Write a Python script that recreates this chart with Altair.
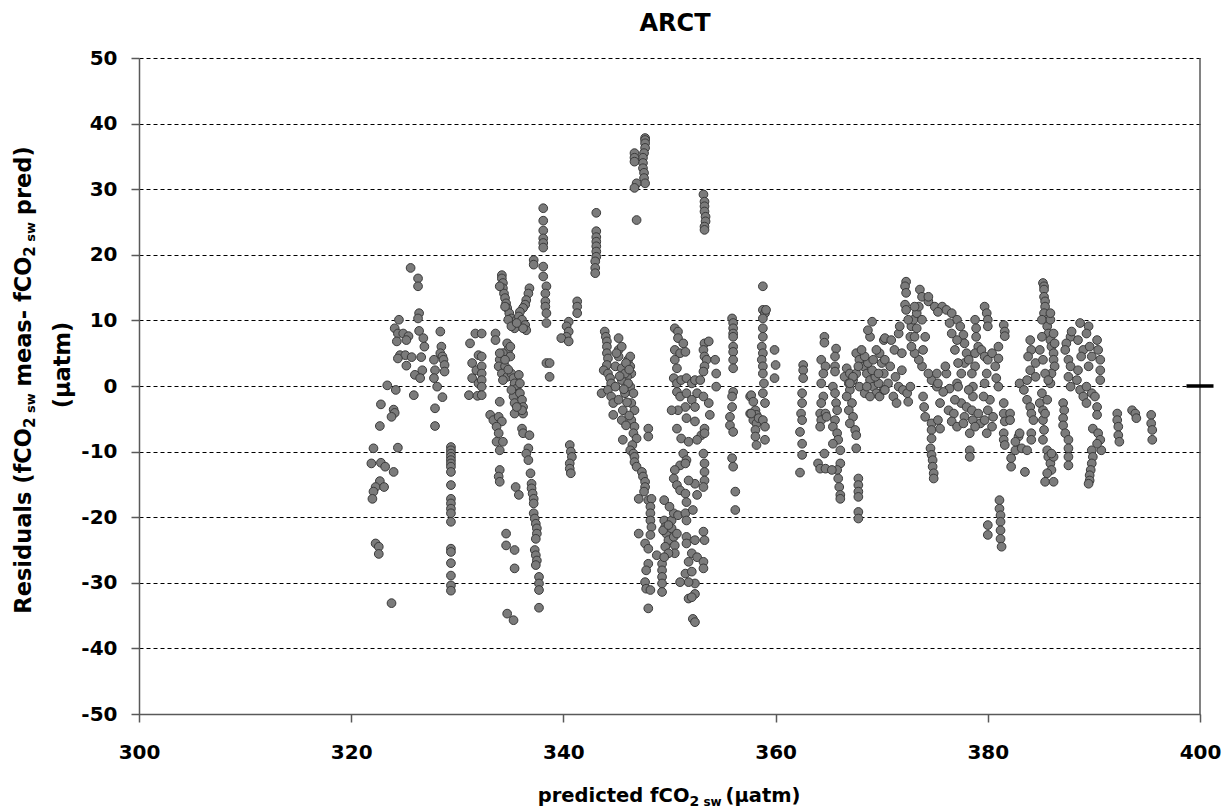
import altair as alt
import pandas as pd

# ---------------- data ----------------
pts_a = [
(325.6,18.0),(326.3,16.4),(326.3,15.2),(326.4,11.1),(326.3,10.3),(324.5,10.1),(324.1,8.8),(324.4,8.0),(324.9,8.0),(325.4,7.6),(325.2,7.0),(324.3,6.8),(326.4,8.4),(326.8,7.3),(326.9,6.0),(324.6,4.7),(325.1,4.7),(325.7,4.4),(324.4,4.2),(325.2,3.1),(326.6,4.4),(326.0,1.7),(326.7,2.4),(326.5,1.2),(323.4,0.1),(324.2,-0.6),(325.9,-1.4),(322.8,-2.8),(324.0,-3.6),(324.1,-4.1),(323.8,-4.7),(322.7,-6.1),(322.1,-9.5),(324.4,-9.4),(321.9,-11.8),(322.8,-11.7),(323.2,-12.3),(324.0,-13.1),(322.7,-14.5),(322.3,-15.4),(322.1,-16.1),(322.0,-17.2),(323.1,-15.4),(322.3,-24.0),(322.6,-24.5),(322.6,-25.6),(323.8,-33.1),
(328.4,8.3),(328.5,6.0),(328.4,5.0),(328.6,4.5),(328.7,4.0),(328.8,3.2),(328.8,2.2),(327.8,4.0),(327.9,2.4),(327.8,1.2),(328.1,-0.1),(328.6,-1.7),(327.9,-3.4),(327.9,-6.1),
(329.4,-9.3),(329.4,-9.8),(329.4,-10.3),(329.4,-10.8),(329.4,-11.3),(329.4,-11.8),(329.4,-12.3),(329.4,-13.1),(329.4,-15.1),(329.4,-17.2),(329.4,-17.9),(329.4,-18.7),(329.4,-19.4),(329.4,-20.7),(329.4,-24.8),(329.4,-25.3),(329.4,-27.0),(329.4,-28.9),(329.4,-30.4),(329.4,-31.2),
(331.7,8.0),(331.2,6.5),(332.0,4.7),(331.4,3.5),(331.8,2.4),(331.4,1.2),(332.0,0.4),(331.1,-1.4),(331.9,-1.5),
]

pts_b = [
(332.3,8.0),(332.3,4.5),(332.3,3.0),(332.3,1.9),(332.3,0.9),(332.3,-0.1),(332.3,-1.4),
(333.6,8.0),(333.6,7.0),
(334.7,6.5),(334.8,5.5),(334.3,5.0),(334.0,4.0),(333.9,3.0),(334.5,3.0),(335.0,4.5),(334.2,1.9),(334.7,1.4),(335.1,1.9),(334.3,0.9),(334.0,5.0),(334.5,4.0),(334.8,2.5),(335.0,6.0),
(334.2,16.9),(334.2,16.4),(334.3,15.7),(334.3,14.9),(334.4,14.1),(334.5,13.4),(334.6,12.6),(334.7,11.9),(334.9,11.1),(335.1,10.3),(335.3,9.6),(335.4,8.8),(334.0,15.2),(334.5,12.1),(334.8,10.1),(335.1,9.1),(335.6,10.1),
(336.8,14.9),(336.7,14.1),(336.5,13.1),(336.4,12.4),(336.2,11.9),(335.9,11.3),(335.8,10.6),(336.1,10.1),(336.4,9.3),(336.5,8.5),(336.2,8.8),(335.6,9.6),
(338.1,27.1),(338.1,25.2),(338.1,23.7),(338.1,22.5),(338.1,21.8),(338.1,21.1),(338.1,18.2),(338.1,16.7),(338.4,15.2),(338.3,14.1),(338.3,12.9),(338.3,12.1),(338.4,11.1),(338.4,9.6),(337.2,19.2),(337.2,18.5),
(338.4,3.5),(338.7,3.5),(338.7,1.4),
(340.5,9.8),(340.3,9.1),(340.5,8.3),(340.3,7.5),(339.8,7.3),(340.5,6.8),(341.3,12.9),(341.3,12.1),(341.3,11.1),
(343.1,26.4),(343.1,23.6),(343.1,22.7),(343.1,22.0),(343.1,21.3),(343.1,20.5),(343.1,19.7),(343.0,19.0),(343.0,18.0),(343.0,17.2),
(343.9,8.3),(344.0,7.5),(344.1,6.8),(344.1,6.0),(344.1,5.0),(344.2,4.2),(344.1,3.2),(343.8,2.4),(344.2,1.9),(344.4,1.2),(344.5,0.4),(343.6,-1.1),(344.2,-0.6),(344.5,-1.6),(344.7,-2.6),(344.7,-4.4),
(334.0,-2.4),(333.1,-4.4),(333.4,-5.2),(333.9,-4.7),(334.2,-5.4),(333.7,-6.2),(333.9,-7.2),(333.7,-8.5),(334.0,-9.8),(334.3,-8.5),
(335.3,1.2),(335.4,0.4),(335.6,-0.4),(335.8,-1.1),(335.3,-1.6),(335.4,-2.6),(335.4,-4.2),(335.9,-1.1),(336.1,-2.1),(336.2,-3.2),(336.2,-4.2),(336.1,-3.7),(335.8,1.7),(335.9,0.4),(335.6,-3.2),(335.1,-0.6),
(336.1,-6.5),(336.2,-7.2),(336.8,-7.5),(336.7,-9.5),(336.5,-10.3),(336.7,-11.3),
(334.0,-12.8),(333.9,-13.8),(334.0,-14.6),(335.5,-15.4),(335.8,-16.6),
(336.9,-13.3),(337.0,-14.9),(337.0,-15.6),(337.1,-16.4),(337.2,-17.2),(337.2,-17.9),
(337.2,-19.4),(337.3,-20.2),(337.4,-21.0),(337.5,-21.7),(337.5,-22.5),(337.4,-23.3),
(334.6,-22.5),(334.6,-24.3),(335.4,-25.0),(335.4,-27.8),
(337.3,-25.0),(337.4,-25.8),(337.5,-26.6),(337.4,-27.3),
(337.7,-29.1),(337.7,-30.1),(337.7,-31.1),(337.7,-33.8),
(334.7,-34.7),(335.3,-35.7),
(340.6,-9.0),(340.7,-10.0),(340.8,-10.8),(340.6,-11.8),(340.6,-12.6),(340.7,-13.3),
]

pts_c = [
(347.7,37.8),(347.7,37.5),(347.7,37.0),(347.7,36.3),(347.6,35.5),(347.5,34.8),(347.5,34.0),(347.5,33.2),(347.6,32.5),(347.6,31.7),(347.7,30.9),(346.7,35.5),(346.7,34.8),(346.7,34.2),(346.9,30.9),(346.7,30.2),(346.9,25.3),
(353.2,29.2),(353.3,28.1),(353.3,27.4),(353.3,26.6),(353.4,25.8),(353.4,25.1),(353.3,24.3),(353.3,23.8),
(345.2,7.3),(345.2,5.5),(345.2,4.5),(344.9,3.0),(345.5,2.7),(346.1,4.0),(346.3,3.0),(346.4,1.9),(346.0,1.4),(345.5,0.9),(344.9,-0.1),(346.3,-0.1),(346.6,-1.1),(345.8,-1.1),(345.2,-2.1),(346.4,-2.6),(346.7,-3.7),(345.6,-3.7),(345.5,-5.2),(346.4,-5.2),(346.7,-6.2),(346.6,-7.2),(345.6,-8.2),(346.1,0.4),(346.3,4.5),(345.8,1.9),(348.0,-6.5),(348.0,-7.7),
(345.5,6.0),(345.0,5.0),(345.9,3.5),(346.2,2.5),(345.3,1.5),(345.7,-0.5),(346.0,-2.5),(346.2,-4.5),(345.9,-6.0),(346.9,-8.0),(346.5,-9.0),
(346.3,-9.8),(346.6,-10.3),(346.7,-10.8),(346.7,-11.6),(346.9,-12.3),(347.4,-13.1),(347.5,-13.8),(347.7,-14.6),(347.7,-15.4),(347.6,-16.1),(347.1,-17.2),(348.0,-17.4),
(348.3,-17.2),(348.2,-18.4),(348.2,-19.4),(348.2,-20.5),(348.3,-21.5),(348.2,-22.7),(347.1,-22.5),(347.7,-24.0),(348.0,-24.8),(348.0,-27.1),(347.8,-28.1),(347.7,-29.9),(347.8,-30.9),(348.2,-31.1),(348.0,-33.9),(348.8,-25.8),(349.3,-27.1),(349.3,-28.1),(349.3,-29.1),(349.3,-30.1),(349.3,-31.4),
(349.5,-17.4),(349.5,-20.5),(349.6,-21.5),(349.7,-22.5),(349.9,-23.5),(349.6,-24.5),(350.2,-20.5),(350.2,-21.7),(350.4,-23.0),(350.5,-24.3),(350.5,-25.5),(349.9,-25.5),(349.5,-26.1),(350.7,-22.5),(350.4,-19.4),(350.0,-18.4),(350.8,-19.7),(351.5,-19.4),(351.6,-20.5),(352.2,-18.9),(349.4,-22.0),(349.9,-21.2),
(351.6,-23.0),(352.4,-23.5),(353.2,-22.2),(353.3,-23.5),(351.6,-24.0),(352.1,-25.5),(352.6,-26.1),(353.2,-26.8),(353.2,-27.8),(351.8,-26.8),(351.5,-28.6),(352.1,-28.3),(352.4,-30.1),(351.8,-29.9),(351.0,-29.9),(352.4,-31.7),(351.8,-32.4),(352.1,-32.2),(352.2,-35.5),(352.4,-36.0),
(350.5,8.8),(350.8,8.3),(350.8,7.3),(351.3,6.5),(350.5,5.5),(351.0,5.0),(351.5,5.2),(350.5,4.0),(350.7,2.7),(350.4,1.2),(350.7,0.4),(351.1,0.9),(351.6,1.2),(352.1,0.4),(352.4,0.9),(353.3,6.5),(353.7,6.8),(353.2,5.5),(353.3,4.5),(353.5,4.0),(353.3,3.0),(353.2,2.2),(352.9,0.9),(354.3,4.0),(354.4,1.9),(354.4,-0.1),
(350.7,-0.9),(351.0,-1.6),(351.6,-1.1),(352.1,-2.1),(352.6,-1.1),(352.4,-3.2),(351.5,-3.2),(350.8,-3.7),(350.2,-3.7),(353.2,-1.6),(353.7,-2.6),(353.8,-4.4),(353.3,-6.5),(353.0,-7.5),(352.4,-5.4),(351.6,-4.9),(350.7,-6.5),(351.1,-8.0),(351.8,-8.5),(352.6,-8.2),(353.3,-7.2),
(351.3,-10.3),(351.6,-11.3),(351.0,-12.1),(351.5,-11.8),(350.5,-12.8),(350.4,-14.1),(350.7,-15.1),(351.0,-15.9),(351.5,-16.4),(351.6,-17.7),(352.4,-14.9),(352.6,-16.6),(353.2,-10.3),(353.3,-11.8),(353.3,-13.1),(353.3,-14.4),(353.2,-15.4),(351.8,-14.4),
(355.9,10.3),(356.0,9.6),(356.0,8.8),(356.0,8.0),(356.0,7.5),(356.0,6.0),(356.0,5.2),(356.0,4.0),(356.0,2.7),
(356.0,-0.9),(355.9,-1.6),(355.9,-3.2),(355.7,-4.7),(355.7,-6.0),(356.0,-7.0),
(355.9,-11.0),(356.0,-12.3),(356.2,-16.1),(356.2,-18.9),
(357.6,-1.6),(357.6,-4.2),
]

pts_d = [
(357.7,-1.4),(357.9,-2.4),(358.1,-3.7),(358.2,-4.4),(357.9,-5.2),(358.2,-5.7),(358.1,-6.7),(358.1,-7.7),(358.2,-9.0),(357.7,-4.2),(358.4,-4.9),
(358.8,15.2),(358.8,11.6),(359.0,11.1),(358.8,10.3),(358.8,8.8),(358.8,7.5),(358.7,6.0),(358.8,5.0),(358.7,4.0),(358.8,3.0),(358.8,1.9),(358.9,0.4),(358.8,-1.1),(359.0,-2.6),(358.8,-5.2),(359.0,-6.2),(359.0,-8.2),(359.1,11.6),
(359.9,5.5),(360.0,3.2),(359.9,1.2),
(362.6,3.2),(362.6,2.4),(362.6,1.2),(362.5,-1.1),(362.5,-2.6),(362.4,-4.2),(362.5,-5.2),(362.3,-7.0),(362.5,-8.8),(362.5,-10.5),(362.3,-13.2),
(364.6,7.5),(364.6,6.6),(364.3,4.0),(364.7,3.0),(364.5,1.9),(364.3,0.4),(364.5,-1.6),(364.3,-2.6),(364.2,-4.2),(364.7,-4.2),(364.3,-5.2),(364.2,-6.2),(364.8,-4.7),(364.6,-10.3),(364.0,-11.8),(364.2,-12.6),(364.7,-12.6),
(365.7,5.7),(365.6,4.5),(365.6,3.0),(365.6,2.2),(365.4,-0.1),(365.6,-1.1),(365.7,-2.6),(365.8,-3.7),(365.6,-5.2),(365.4,-6.2),(365.8,-7.2),(365.9,-8.2),(365.4,-8.8),(366.1,-9.8),(366.1,-11.8),(365.8,-12.8),(365.9,-14.1),(366.0,-15.4),(366.1,-16.6),(366.1,-17.2),(365.3,-12.8),
(366.7,2.7),(366.5,1.4),(366.9,0.4),(367.0,-0.6),(366.7,-1.6),(367.2,-2.6),(366.9,-3.7),(367.3,-4.7),(367.0,-5.7),(367.5,-6.7),(367.6,-7.5),(367.3,0.9),(367.0,1.9),(367.6,1.9),(367.6,-9.5),
(367.8,-14.1),(367.8,-15.1),(367.8,-16.1),(367.8,-16.9),(367.8,-19.2),(367.8,-20.2),
(367.6,5.0),(367.9,4.0),(368.3,3.0),(368.6,1.9),(368.9,0.9),(369.2,-0.1),(369.5,-1.1),(369.8,-1.6),(370.2,-0.6),(369.7,0.4),(369.4,1.4),(369.1,2.4),(368.7,3.5),(368.4,4.5),(368.1,5.5),(369.8,5.0),(370.0,3.5),(370.2,1.9),(369.5,5.5),(368.9,7.5),(368.7,8.5),(369.1,9.8),(370.2,7.0),(367.3,1.4),(367.9,-0.1),(368.4,-1.1),(367.0,0.4),(368.6,-0.1),(368.9,-1.6),(367.8,3.0),(369.2,4.0),(369.7,1.9),
]

pts_e = [
(370.3,7.3),(370.9,7.0),(371.6,8.0),(371.7,9.1),(371.2,5.5),(371.9,5.0),(370.3,4.0),(370.8,3.0),(371.9,2.4),(371.3,1.4),(370.6,0.4),(371.6,-0.1),(372.0,-0.6),(371.1,-1.6),(371.4,-2.6),(372.5,-2.4),(372.4,-1.1),(372.7,-0.1),(370.3,-0.6),
(372.3,15.9),(372.2,15.2),(372.3,14.2),(372.2,12.4),(372.3,11.6),
(373.6,14.7),(373.8,13.6),(374.4,12.9),(375.0,12.1),(375.7,12.1),(376.1,11.6),(376.6,11.1),(377.1,10.1),(377.4,9.1),(377.7,7.8),(377.8,6.5),(378.0,5.0),(377.8,3.5),(377.5,1.9),(377.1,0.4),(376.4,-0.4),(375.8,-0.9),(375.2,-0.1),(374.7,0.9),(374.4,1.9),(373.8,3.0),(373.5,4.0),(373.1,5.0),(372.8,6.0),(372.7,7.5),(372.8,9.1),(373.0,10.1),(373.3,11.1),(373.5,12.1),(374.1,7.5),(373.9,5.5),(373.3,8.8),(372.5,10.1),(373.8,10.1),(373.1,7.5),(376.6,8.0),(376.4,9.6),(377.1,7.0),(376.9,5.5),(377.2,3.5),(376.1,1.9),(375.3,0.4),(375.2,1.9),(376.0,3.0),(374.4,13.6),(375.3,11.3),(373.1,12.1),
(378.8,10.1),(378.9,8.8),(378.9,7.5),(379.1,6.0),(378.8,5.0),(379.4,5.5),(379.7,4.5),(380.0,4.0),(380.4,5.0),(381.0,6.0),(381.0,4.2),(380.7,3.0),(379.7,12.1),(379.9,11.1),(380.0,10.1),(380.0,9.1),(381.5,9.3),(381.6,8.3),(378.8,3.0),(379.9,1.9),(379.7,0.4),(378.6,-0.1),(381.6,7.6),(378.2,4.0),(378.5,1.9),
(376.3,-3.7),(376.8,-4.2),(376.6,-5.4),(377.1,-6.2),(377.5,-2.6),(378.0,-3.2),(377.8,-4.7),(378.5,-3.7),(378.6,-5.2),(379.1,-4.2),(379.3,-5.7),(379.7,-5.2),(380.0,-3.7),(380.4,-6.2),(380.2,-2.1),(379.6,-1.6),(378.6,-1.6),(376.9,-2.1),(378.3,-7.2),(377.7,-5.7),(378.8,-6.2),(380.5,-4.7),(379.9,-7.2),(377.2,-0.1),(378.2,-0.6),
(378.3,-9.8),(378.3,-10.8),
(373.9,-1.6),(374.0,-3.2),(374.1,-4.7),
(374.7,-5.7),(374.7,-6.7),(374.7,-8.0),(374.6,-9.5),(374.7,-10.5),(374.8,-11.3),(374.8,-12.3),(374.9,-13.3),(374.9,-14.1),(375.3,-5.2),(375.5,-6.5),
(375.5,-2.6),
(381.5,-2.6),(381.5,-4.2),(381.6,-5.4),(381.5,-7.2),(381.5,-8.2),(381.6,-9.0),(382.1,-4.2),(382.1,-5.2),
(382.2,-11.0),(382.2,-12.3),(382.6,-9.8),(382.9,-7.7),(382.6,-8.5),
(381.1,-17.4),(381.1,-18.7),(381.2,-19.7),(381.2,-20.7),(381.2,-22.0),(381.2,-23.3),(381.3,-24.5),
(380.0,-21.2),(380.0,-22.7),
(380.8,1.2),(381.0,-0.1),
]

pts_f = [
(383.0,0.4),(383.4,-0.6),(383.7,-2.1),(384.0,-3.2),(384.1,-4.2),(384.3,-5.2),(383.0,-7.2),(383.2,-9.5),(383.7,-9.8),(384.1,-7.2),(384.1,-8.2),(383.5,-13.1),(384.0,7.0),(384.1,5.5),(383.8,4.5),(384.5,3.5),(384.0,2.4),(384.5,1.4),(383.7,0.9),
(385.2,15.7),(385.3,15.2),(385.3,14.7),(385.3,13.6),(385.4,12.9),(385.4,12.1),(385.3,11.1),(385.6,10.1),(385.6,9.1),(385.7,8.0),(385.9,7.0),(386.0,6.0),(386.2,5.0),(386.2,4.0),(386.3,3.0),(386.0,1.9),(385.9,0.4),(385.1,10.1),(385.1,7.5),(384.9,5.5),(385.2,4.0),(385.4,1.9),(385.7,0.9),(386.3,6.5),(386.2,8.0),(385.9,10.1),(385.9,11.1),
(385.1,-1.1),(384.9,-2.6),(385.2,-3.7),(385.2,-5.2),(385.3,-6.7),(385.2,-8.2),(385.6,-2.1),(385.4,-4.2),(385.6,-9.8),(385.7,-10.8),(385.9,-11.8),(386.0,-12.8),(386.2,-10.8),(385.6,-13.3),(385.4,-14.6),(386.2,-14.6),(386.0,-10.3),
(387.8,7.5),(387.4,6.5),(387.3,5.5),(387.6,4.0),(387.8,3.0),(387.6,1.4),(387.8,-0.1),(388.7,9.6),(389.5,9.1),(389.3,8.0),(388.5,7.0),(389.0,5.5),(389.6,6.0),(390.3,7.0),(390.4,5.5),(390.6,4.0),(390.6,2.4),(390.6,0.9),(389.8,4.5),(389.5,3.0),(388.8,4.5),(388.5,2.4),(388.4,0.9),(388.7,-0.6),(389.0,-1.6),(389.3,-2.6),(389.8,-1.1),(390.1,-1.6),(390.3,-3.2),(390.3,-4.4),(389.3,-0.1),(387.9,8.3),
(387.1,-2.6),(387.2,-3.7),(387.1,-4.9),(387.1,-6.0),(387.3,-7.2),(387.6,-8.2),(387.6,-9.5),(387.6,-10.8),(387.6,-12.1),
(389.9,-6.5),(390.4,-7.2),(390.6,-8.2),(390.7,-9.8),(390.3,-8.8),(389.8,-9.8),(389.9,-10.8),(389.8,-11.8),(389.7,-12.8),(389.6,-13.6),(389.6,-14.4),(389.5,-14.9),
(392.2,-4.2),(392.2,-5.2),(392.3,-6.2),(392.3,-7.5),(392.4,-8.5),
(393.6,-3.7),(393.9,-4.2),(394.0,-4.9),
(395.4,-4.4),(395.4,-5.7),(395.5,-6.7),(395.5,-8.2),
]

marker_x = [400]
marker_y = [0]

x_ticks = [300, 320, 340, 360, 380, 400]
y_ticks = [-50, -40, -30, -20, -10, 0, 10, 20, 30, 40, 50]

title_text = "ARCT"

# ---------------- build ----------------
rows = pts_a + pts_b + pts_c + pts_d + pts_e + pts_f
df = pd.DataFrame(rows, columns=["x", "y"])
mk = pd.DataFrame({"x": marker_x, "y": marker_y})

W_PLOT, H_PLOT = 1061, 656
FONT = "DejaVu Sans"
AXIS_GRAY = "#595959"

xenc = alt.X("x:Q", scale=alt.Scale(domain=[300, 400], nice=False, zero=False),
             axis=alt.Axis(values=x_ticks, title="", grid=False, labelFlush=False,
                           labelExpr="'' + datum.value", labelPadding=20))
yenc = alt.Y("y:Q", scale=alt.Scale(domain=[-50, 50], nice=False, zero=False),
             axis=alt.Axis(values=y_ticks, title="", grid=True, gridDash=[4, 3], gridColor="#000000",
                           gridWidth=1, labelFlush=False, labelExpr="'' + datum.value", labelPadding=14))

points = alt.Chart(df).mark_circle(size=76, fill="#7b7b7b", stroke="#3a3a3a", strokeWidth=1, opacity=1).encode(x=xenc, y=yenc)
dash = alt.Chart(mk).mark_point(shape="M-1,0L1,0", size=729, stroke="#000000", strokeWidth=3.5,
                                filled=False, opacity=1).encode(x="x:Q", y="y:Q")
right_edge = alt.Chart(mk).mark_rule(color=AXIS_GRAY, strokeWidth=1.5).encode(
    x="x:Q", y=alt.value(0), y2=alt.value(H_PLOT))

# text-width estimates for DejaVu Sans Bold (em units), used to chain title pieces
WID = {' ': 0.348, '(': 0.457, ')': 0.457, '-': 0.415, '2': 0.696, 'R': 0.770, 'C': 0.734, 'O': 0.850,
       'a': 0.675, 'c': 0.593, 'd': 0.716, 'e': 0.678, 'f': 0.435, 'i': 0.343, 'l': 0.343, 'm': 1.042,
       'p': 0.716, 'r': 0.493, 's': 0.595, 't': 0.478, 'u': 0.712, 'w': 0.924, 'µ': 0.721}


def tw(s, size):
    return sum(WID.get(ch, 0.6) for ch in s) * size


def text_layer(txt, x, y, size, angle=0, align="left", baseline="alphabetic"):
    kw = dict(font=FONT, fontWeight="bold", fontSize=size, align=align, baseline=baseline, color="#000000")
    if angle:
        kw["angle"] = angle
    return alt.Chart(pd.DataFrame({"t": [txt]})).mark_text(**kw).encode(
        x=alt.value(x), y=alt.value(y), text="t:N")


texts = [text_layer(title_text, 536, -27, 24, align="center")]

# x-axis title: predicted fCO2 sw (µatm)   (piece, size, shift, gap-before in px)
XM, XS2, XSW, SHIFT = 19.5, 14, 12, 4
x_pieces = [("predicted fCO", XM, 0, 0), ("2", XS2, SHIFT, 0), ("sw", XSW, SHIFT, 0.35 * XSW),
            ("(µatm)", XM, 0, 0.2 * XM)]
total = sum(tw(s, f) + g for s, f, _, g in x_pieces)
cx = 530 - total / 2
for s, f, d, g in x_pieces:
    cx += g
    texts.append(text_layer(s, cx, 744 + d, f))
    cx += tw(s, f)

# y-axis title (rotated, reads bottom to top)
YF, YS2, YSW = 22.5, 15, 13
y_pieces = [("Residuals (fCO", YF, 0, 0), ("2", YS2, SHIFT, 0), ("sw", YSW, SHIFT, 0.35 * YSW),
            ("meas- fCO", YF, 0, 0.3 * YF), ("2", YS2, SHIFT, 0), ("sw", YSW, SHIFT, 0.35 * YSW),
            ("pred)", YF, 0, 0.3 * YF)]
total = sum(tw(s, f) + g for s, f, _, g in y_pieces)
cy = 322 + total / 2
for s, f, d, g in y_pieces:
    cy -= g
    texts.append(text_layer(s, -108 + d, cy, f, angle=270))
    cy -= tw(s, f)
texts.append(text_layer("(µatm)", -69, 307, YF, angle=270, align="center"))

chart = alt.layer(right_edge, points, dash, *texts).properties(
    width=W_PLOT, height=H_PLOT,
    padding={"left": 131, "top": 50, "right": 22, "bottom": 95},
    autosize=alt.AutoSizeParams(type="none"),
    background="#ffffff",
).configure_view(stroke="transparent").configure_axis(
    labelFont=FONT, labelFontWeight="bold", labelFontSize=20, labelColor="#000000",
    tickColor=AXIS_GRAY, domainColor=AXIS_GRAY, domainWidth=1.5, tickWidth=1.5, tickSize=8,
)

chart.save("out.html", embed_options={"renderer": "svg", "actions": False})
